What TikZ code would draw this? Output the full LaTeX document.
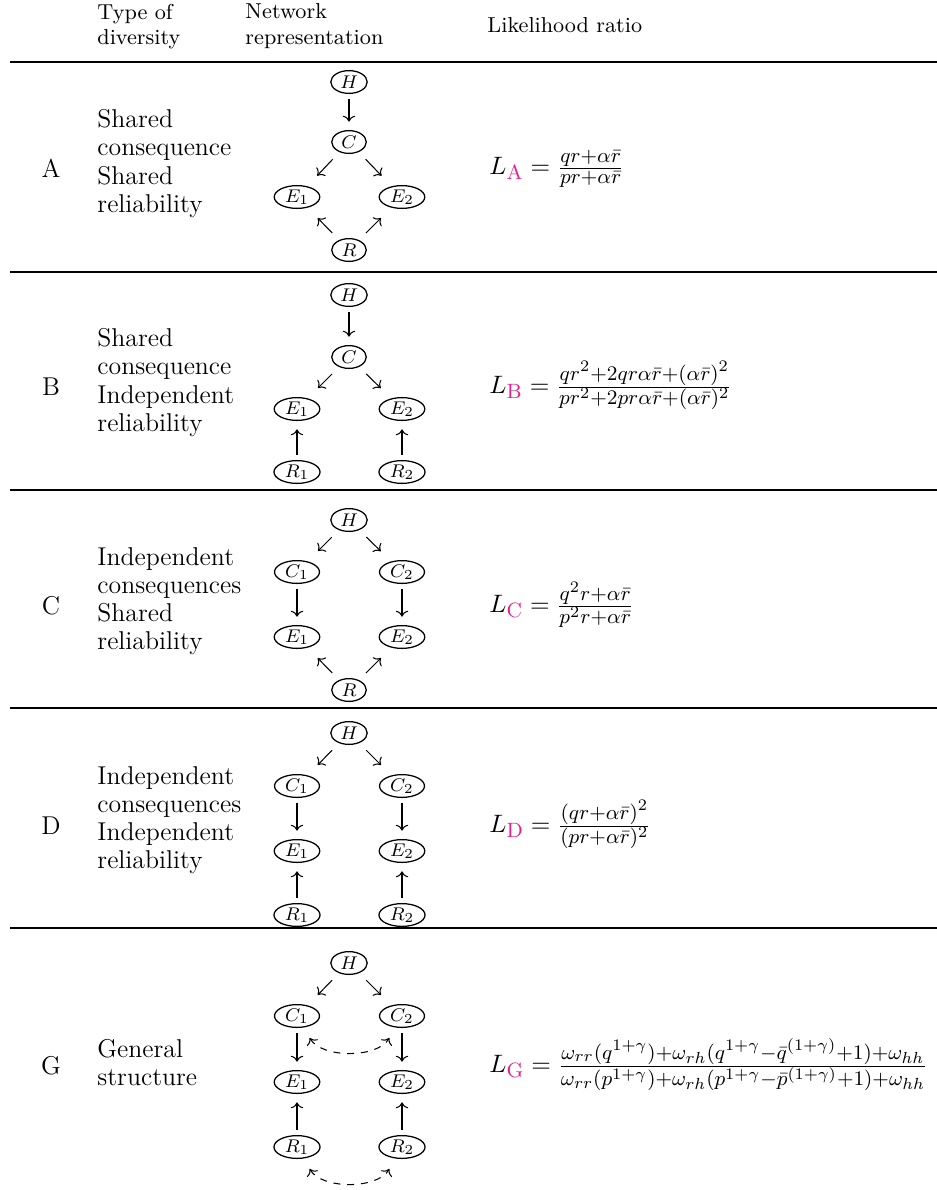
\documentclass[tikz,border=0pt]{standalone}
\usetikzlibrary{shapes.geometric,arrows.meta}
\definecolor{lpink}{RGB}{232,28,140}
\DeclareMathSizes{11.2}{11.2}{8.8}{6.6}
\newcommand{\Lsub}[1]{L_{\textcolor{lpink}{\mathrm{#1}}}}
\newcommand{\bodyfont}{\fontsize{11.2}{12.2}\selectfont}
\newcommand{\headfont}{\fontsize{9.4}{11.2}\selectfont}
\begin{document}
\begin{tikzpicture}[x=0.4348pt,y=-0.4348pt,
  net/.style={draw, ellipse, line width=0.55pt, inner xsep=1.8pt, inner ysep=0pt,
              minimum height=9.9pt, minimum width=15pt, font=\footnotesize},
  arr/.style={->, line width=0.45pt},
  varr/.style={arr, shorten <=2.2pt, shorten >=3.6pt},
  darr/.style={arr, shorten <=4.3pt, shorten >=6.3pt},
  bidash/.style={<->, dashed, line width=0.45pt, shorten <=5.2pt, shorten >=5.2pt},
  txt/.style={anchor=north west, align=left, inner sep=0pt, font=\bodyfont},
  hdr/.style={anchor=north west, align=left, inner sep=0pt, font=\headfont},
  lab/.style={inner sep=0pt, font=\bodyfont},
  frm/.style={anchor=base west, inner sep=0pt, font=\bodyfont},
  rule/.style={line width=0.5pt}]
\useasboundingbox (0,0) rectangle (937,1190);

% header
\node[hdr] (h1) at (97,3.5) {Type of\\diversity};
\node[hdr] (h2) at (245,3.5) {Network\\representation};
\node[hdr, anchor=base west] (h3) at (487,32) {Likelihood ratio};
\draw[rule] (10,62) -- (937,62);

% ---------- Row A
\node[lab] (lA) at (51,168) {A};
\node[txt] (tA) at (97,109.3) {Shared\\consequence\\Shared\\reliability};
\node[net] (aH) at (349,82) {$H$};
\node[net] (aC) at (349,142) {$C$};
\node[net] (aE1) at (297,197) {$E_1$};
\node[net] (aE2) at (402,197) {$E_2$};
\node[net] (aR) at (349,250) {$R$};
\draw[varr] (aH) -- (aC);
\draw[darr] (aC) -- (aE1);
\draw[darr] (aC) -- (aE2);
\draw[darr] (aR) -- (aE1);
\draw[darr] (aR) -- (aE2);
\node[frm] (fA) at (489,174.5) {$\Lsub{A} = \frac{qr+\alpha\bar{r}}{pr+\alpha\bar{r}}$};
\draw[rule] (10,272) -- (937,272);

% ---------- Row B
\node[lab] (lB) at (51,387) {B};
\node[txt] (tB) at (97,328.3) {Shared\\consequence\\Independent\\reliability};
\node[net] (bH) at (349,295) {$H$};
\node[net] (bC) at (349,357) {$C$};
\node[net] (bE1) at (297,409) {$E_1$};
\node[net] (bE2) at (402,409) {$E_2$};
\node[net] (bR1) at (297,472) {$R_1$};
\node[net] (bR2) at (402,472) {$R_2$};
\draw[varr] (bH) -- (bC);
\draw[darr] (bC) -- (bE1);
\draw[darr] (bC) -- (bE2);
\draw[varr] (bR1) -- (bE1);
\draw[varr] (bR2) -- (bE2);
\node[frm] (fB) at (489,393.5) {$\Lsub{B} = \frac{qr^2+2qr\alpha\bar{r}+(\alpha\bar{r})^2}{pr^2+2pr\alpha\bar{r}+(\alpha\bar{r})^2}$};
\draw[rule] (10,490) -- (937,490);

% ---------- Row C
\node[lab] (lC) at (51,606) {C};
\node[txt] (tC) at (97,547.3) {Independent\\consequences\\Shared\\reliability};
\node[net] (cH) at (349,520) {$H$};
\node[net] (cC1) at (297,572) {$C_1$};
\node[net] (cC2) at (402,572) {$C_2$};
\node[net] (cE1) at (297,637) {$E_1$};
\node[net] (cE2) at (402,637) {$E_2$};
\node[net] (cR) at (349,690) {$R$};
\draw[darr] (cH) -- (cC1);
\draw[darr] (cH) -- (cC2);
\draw[varr] (cC1) -- (cE1);
\draw[varr] (cC2) -- (cE2);
\draw[darr] (cR) -- (cE1);
\draw[darr] (cR) -- (cE2);
\node[frm] (fC) at (489,612.5) {$\Lsub{C} = \frac{q^2r+\alpha\bar{r}}{p^2r+\alpha\bar{r}}$};
\draw[rule] (10,708) -- (937,708);

% ---------- Row D
\node[lab] (lD) at (51,826) {D};
\node[txt] (tD) at (97,766.3) {Independent\\consequences\\Independent\\reliability};
\node[net] (dH) at (349,733) {$H$};
\node[net] (dC1) at (297,786) {$C_1$};
\node[net] (dC2) at (402,786) {$C_2$};
\node[net] (dE1) at (297,851) {$E_1$};
\node[net] (dE2) at (402,851) {$E_2$};
\node[net] (dR1) at (297,915) {$R_1$};
\node[net] (dR2) at (402,915) {$R_2$};
\draw[darr] (dH) -- (dC1);
\draw[darr] (dH) -- (dC2);
\draw[varr] (dC1) -- (dE1);
\draw[varr] (dC2) -- (dE2);
\draw[varr] (dR1) -- (dE1);
\draw[varr] (dR2) -- (dE2);
\node[frm] (fD) at (489,832.5) {$\Lsub{D} = \frac{(qr+\alpha\bar{r})^2}{(pr+\alpha\bar{r})^2}$};
\draw[rule] (10,928) -- (937,928);

% ---------- Row G
\node[lab] (lG) at (51,1066) {G};
\node[txt] (tG) at (97,1039.3) {General\\structure};
\node[net] (gH) at (349,963) {$H$};
\node[net] (gC1) at (297,1016) {$C_1$};
\node[net] (gC2) at (402,1016) {$C_2$};
\node[net] (gE1) at (297,1082) {$E_1$};
\node[net] (gE2) at (402,1082) {$E_2$};
\node[net] (gR1) at (297,1147) {$R_1$};
\node[net] (gR2) at (402,1147) {$R_2$};
\draw[darr] (gH) -- (gC1);
\draw[darr] (gH) -- (gC2);
\draw[varr] (gC1) -- (gE1);
\draw[varr] (gC2) -- (gE2);
\draw[varr] (gR1) -- (gE1);
\draw[varr] (gR2) -- (gE2);
\draw[bidash] (gC1) to[out=-60,in=-120] (gC2);
\draw[bidash] (gR1) to[out=-60,in=-120] (gR2);
\node[frm] (fG) at (489,1072.5) {$\Lsub{G} = \frac{\omega_{rr}(q^{1+\gamma})+\omega_{rh}(q^{1+\gamma}-\bar{q}^{(1+\gamma)}+1)+\omega_{hh}}{\omega_{rr}(p^{1+\gamma})+\omega_{rh}(p^{1+\gamma}-\bar{p}^{(1+\gamma)}+1)+\omega_{hh}}$};
\end{tikzpicture}
\end{document}
